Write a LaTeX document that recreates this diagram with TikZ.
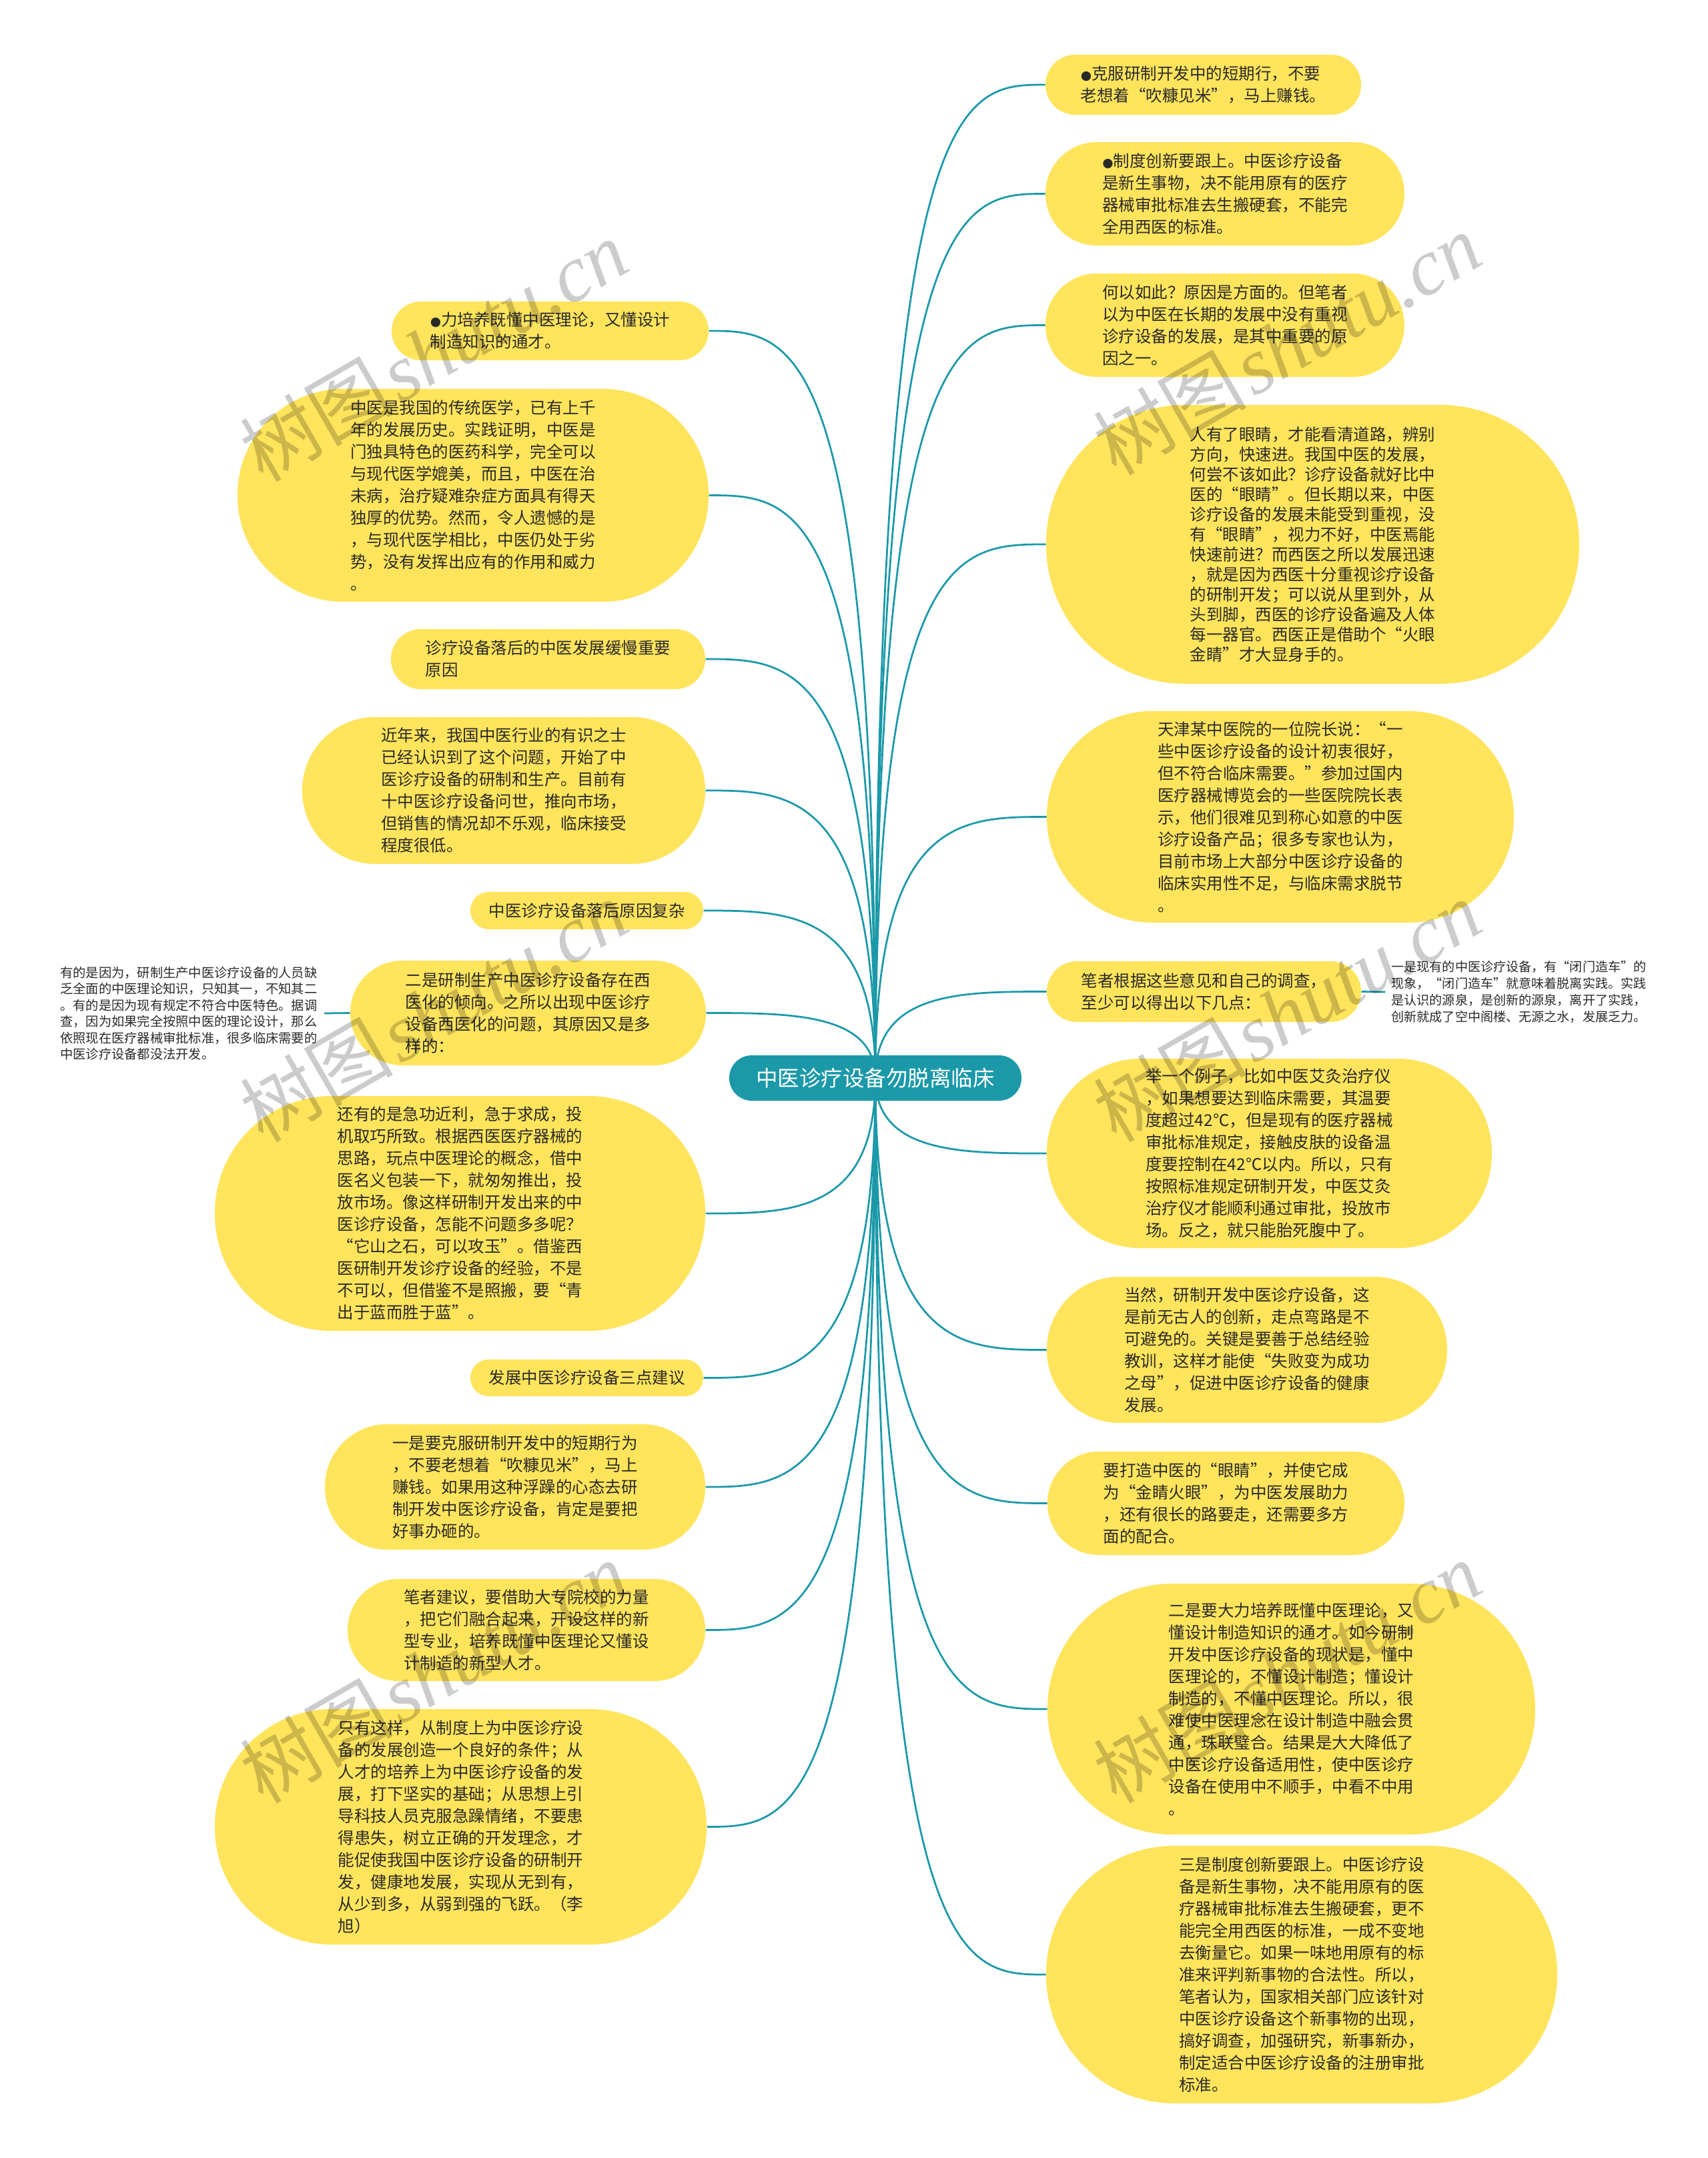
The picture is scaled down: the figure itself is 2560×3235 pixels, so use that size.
\documentclass[tikz,border=0pt]{standalone}
\usepackage{fontspec}
\newfontfamily\cjkfont{Noto Sans CJK SC}
\newfontfamily\wmserif{Liberation Serif}
\newfontfamily\symfont{DejaVu Sans}
\usetikzlibrary{calc,backgrounds}
\definecolor{bubY}{HTML}{FFE45C}
\definecolor{tealC}{HTML}{1B99A9}
\definecolor{txtC}{HTML}{2A2A2A}
\newcommand\bul{{\symfont\fontsize{7.5pt}{7.5pt}\selectfont ●}}
\tikzset{
 bub/.style={fill=bubY, draw=none, align=left, text=txtC, inner sep=0pt, font=\cjkfont\fontsize{9.8pt}{13.2pt}\selectfont},
 tightlead/.style={font=\cjkfont\fontsize{9.8pt}{12pt}\selectfont},
 link/.style={draw=tealC, line width=1.1pt},
 note/.style={align=left, text=txtC, font=\cjkfont\fontsize{7.7pt}{9.8pt}\selectfont, inner ysep=0pt, inner xsep=4pt},
 wm/.style={rotate=30, text=black, opacity=0.2, inner sep=0pt},
 rootbox/.style={fill=tealC, text=white, inner sep=0pt, font=\cjkfont\fontsize{13pt}{15pt}\selectfont,
   minimum width=175.2pt, minimum height=27.2pt, rounded corners=13.5pt}
}
\newcommand\mybub[7][]{\node[bub,#1,minimum width={(#5-#3)*0.4pt},minimum height={(#6-#4)*0.4pt},rounded corners={(#6-#4)*0.199pt}] (#2) at ({(#3+#5)/2},{(#4+#6)/2}) {#7};}
\begin{document}
\begin{tikzpicture}[x=0.4pt,y=-0.4pt]
\useasboundingbox (0,0) rectangle (2560,3235);

\node[rootbox] (root) at (1312,1616) {中医诊疗设备勿脱离临床};

% left side
\mybub{L1}{587}{452}{1062}{540}{\bul 力培养既懂中医理论，又懂设计\\制造知识的通才。}
\mybub{L2}{356}{583}{1062}{902}{中医是我国的传统医学，已有上千\\年的发展历史。实践证明，中医是\\门独具特色的医药科学，完全可以\\与现代医学媲美，而且，中医在治\\未病，治疗疑难杂症方面具有得天\\独厚的优势。然而，令人遗憾的是\\，与现代医学相比，中医仍处于劣\\势，没有发挥出应有的作用和威力\\。}
\mybub{L3}{586}{943}{1057}{1033}{诊疗设备落后的中医发展缓慢重要\\原因}
\mybub{L4}{453}{1075}{1057}{1295}{近年来，我国中医行业的有识之士\\已经认识到了这个问题，开始了中\\医诊疗设备的研制和生产。目前有\\十中医诊疗设备问世，推向市场，\\但销售的情况却不乐观，临床接受\\程度很低。}
\mybub{L5}{705}{1337}{1054}{1393}{中医诊疗设备落后原因复杂}
\mybub{L6}{525}{1440}{1058}{1597}{二是研制生产中医诊疗设备存在西\\医化的倾向。之所以出现中医诊疗\\设备西医化的问题，其原因又是多\\样的：}
\mybub{L7}{322}{1643}{1057}{1995}{还有的是急功近利，急于求成，投\\机取巧所致。根据西医医疗器械的\\思路，玩点中医理论的概念，借中\\医名义包装一下，就匆匆推出，投\\放市场。像这样研制开发出来的中\\医诊疗设备，怎能不问题多多呢？\\“它山之石，可以攻玉”。借鉴西\\医研制开发诊疗设备的经验，不是\\不可以，但借鉴不是照搬，要“青\\出于蓝而胜于蓝”。}
\mybub{L8}{705}{2038}{1054}{2093}{发展中医诊疗设备三点建议}
\mybub{L9}{487}{2135}{1057}{2323}{一是要克服研制开发中的短期行为\\，不要老想着“吹糠见米”，马上\\赚钱。如果用这种浮躁的心态去研\\制开发中医诊疗设备，肯定是要把\\好事办砸的。}
\mybub{L10}{521}{2367}{1057}{2520}{笔者建议，要借助大专院校的力量\\，把它们融合起来，开设这样的新\\型专业，培养既懂中医理论又懂设\\计制造的新型人才。}
\mybub{L11}{322}{2562}{1059}{2915}{只有这样，从制度上为中医诊疗设\\备的发展创造一个良好的条件；从\\人才的培养上为中医诊疗设备的发\\展，打下坚实的基础；从思想上引\\导科技人员克服急躁情绪，不要患\\得患失，树立正确的开发理念，才\\能促使我国中医诊疗设备的研制开\\发，健康地发展，实现从无到有，\\从少到多，从弱到强的飞跃。（李\\旭）}

% right side
\mybub{R1}{1567}{82}{2040}{172}{\bul 克服研制开发中的短期行，不要\\老想着“吹糠见米”，马上赚钱。}
\mybub{R2}{1567}{213}{2105}{368}{\bul 制度创新要跟上。中医诊疗设备\\是新生事物，决不能用原有的医疗\\器械审批标准去生搬硬套，不能完\\全用西医的标准。}
\mybub{R3}{1567}{410}{2105}{565}{何以如此？原因是方面的。但笔者\\以为中医在长期的发展中没有重视\\诊疗设备的发展，是其中重要的原\\因之一。}
\mybub[tightlead]{R4}{1568}{607}{2367}{1025}{人有了眼睛，才能看清道路，辨别\\方向，快速进。我国中医的发展，\\何尝不该如此？诊疗设备就好比中\\医的“眼睛”。但长期以来，中医\\诊疗设备的发展未能受到重视，没\\有“眼睛”，视力不好，中医焉能\\快速前进？而西医之所以发展迅速\\，就是因为西医十分重视诊疗设备\\的研制开发；可以说从里到外，从\\头到脚，西医的诊疗设备遍及人体\\每一器官。西医正是借助个“火眼\\金睛”才大显身手的。}
\mybub{R5}{1569}{1066}{2269}{1383}{天津某中医院的一位院长说：“一\\些中医诊疗设备的设计初衷很好，\\但不符合临床需要。”参加过国内\\医疗器械博览会的一些医院院长表\\示，他们很难见到称心如意的中医\\诊疗设备产品；很多专家也认为，\\目前市场上大部分中医诊疗设备的\\临床实用性不足，与临床需求脱节\\。}
\mybub{R6}{1569}{1441}{2040}{1532}{笔者根据这些意见和自己的调查，\\至少可以得出以下几点：}
\mybub{R7}{1569}{1587}{2236}{1871}{举一个例子，比如中医艾灸治疗仪\\，如果想要达到临床需要，其温要\\度超过42℃，但是现有的医疗器械\\审批标准规定，接触皮肤的设备温\\度要控制在42℃以内。所以，只有\\按照标准规定研制开发，中医艾灸\\治疗仪才能顺利通过审批，投放市\\场。反之，就只能胎死腹中了。}
\mybub{R8}{1569}{1914}{2169}{2133}{当然，研制开发中医诊疗设备，这\\是前无古人的创新，走点弯路是不\\可避免的。关键是要善于总结经验\\教训，这样才能使“失败变为成功\\之母”，促进中医诊疗设备的健康\\发展。}
\mybub{R9}{1570}{2176}{2105}{2331}{要打造中医的“眼睛”，并使它成\\为“金睛火眼”，为中医发展助力\\，还有很长的路要走，还需要多方\\面的配合。}
\mybub{R10}{1570}{2374}{2301}{2750}{二是要大力培养既懂中医理论，又\\懂设计制造知识的通才。如今研制\\开发中医诊疗设备的现状是，懂中\\医理论的，不懂设计制造；懂设计\\制造的，不懂中医理论。所以，很\\难使中医理念在设计制造中融会贯\\通，珠联璧合。结果是大大降低了\\中医诊疗设备适用性，使中医诊疗\\设备在使用中不顺手，中看不中用\\。}
\mybub{R11}{1568}{2767}{2334}{3153}{三是制度创新要跟上。中医诊疗设\\备是新生事物，决不能用原有的医\\疗器械审批标准去生搬硬套，更不\\能完全用西医的标准，一成不变地\\去衡量它。如果一味地用原有的标\\准来评判新事物的合法性。所以，\\笔者认为，国家相关部门应该针对\\中医诊疗设备这个新事物的出现，\\搞好调查，加强研究，新事新办，\\制定适合中医诊疗设备的注册审批\\标准。}

% notes
\node[note, anchor=east] (lnote) at (486,1519) {有的是因为，研制生产中医诊疗设备的人员缺\\乏全面的中医理论知识，只知其一，不知其二\\。有的是因为现有规定不符合中医特色。据调\\查，因为如果完全按照中医的理论设计，那么\\依照现在医疗器械审批标准，很多临床需要的\\中医诊疗设备都没法开发。};
\node[note, anchor=west, inner xsep=3.6pt, font=\cjkfont\fontsize{7.64pt}{10pt}\selectfont] (rnote) at (2076,1487) {一是现有的中医诊疗设备，有“闭门造车”的\\现象，“闭门造车”就意味着脱离实践。实践\\是认识的源泉，是创新的源泉，离开了实践，\\创新就成了空中阁楼、无源之水，发展乏力。};

\begin{scope}[on background layer]
\fill[white] (0,0) rectangle (2560,3235);
\foreach \n in {R1,R2,R3,R4,R5,R6,R7,R8,R9,R10,R11} {
  \draw[link] (root.center) .. controls (root.center |- \n.west) and ($(root.center |- \n.west)!0.5!(\n.west)$) .. (\n.west);
}
\foreach \n in {L1,L2,L3,L4,L5,L6,L7,L8,L9,L10,L11} {
  \draw[link] (root.center) .. controls (root.center |- \n.east) and ($(root.center |- \n.east)!0.5!(\n.east)$) .. (\n.east);
}
\draw[link] (L6.west) -- (lnote.east);
\draw[link] (R6.east) -- (rnote.west);
\end{scope}

% watermarks
\foreach \wx/\wy/\wn in {650/526/w1,1929/516/w2,650/1516/w3,1929/1516/w4,650/2507/w5,1929/2507/w6} {
  \node[wm] (\wn) at (\wx,\wy) {{\cjkfont\fontsize{46pt}{50pt}\selectfont 树图} {\wmserif\itshape\fontsize{48pt}{50pt}\selectfont shutu.cn}};
}
\end{tikzpicture}
\end{document}
